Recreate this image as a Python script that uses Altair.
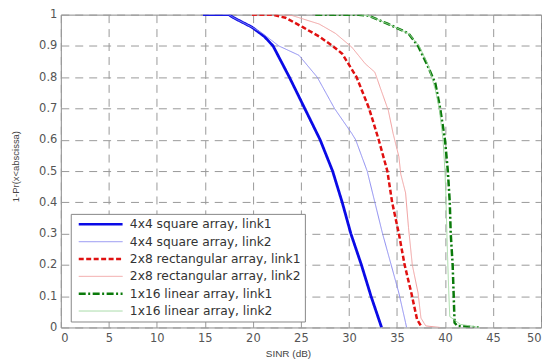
import altair as alt
import pandas as pd

series = [
    "4x4 square array, link1",
    "4x4 square array, link2",
    "2x8 rectangular array, link1",
    "2x8 rectangular array, link2",
    "1x16 linear array, link1",
    "1x16 linear array, link2",
]

# 4x4 square array
b1_x = [14.8, 17.5, 18.0, 19.9, 21.2, 22.1, 23.8, 25.4, 27.0, 28.3, 29.3, 30.2, 31.3, 32.3, 33.4]
b1_y = [1.0, 1.0, 0.99, 0.96, 0.93, 0.90, 0.80, 0.70, 0.60, 0.50, 0.40, 0.30, 0.20, 0.10, 0.0]
b2_x = [14.8, 17.5, 18.0, 19.9, 21.0, 22.7, 24.8, 26.7, 28.5, 30.3, 30.7, 31.9, 32.7, 33.5, 34.4, 35.2, 35.9, 36.0]
b2_y = [1.0, 1.0, 0.99, 0.96, 0.94, 0.90, 0.87, 0.80, 0.70, 0.62, 0.60, 0.50, 0.40, 0.30, 0.20, 0.11, 0.015, 0.0]

# 2x8 rectangular array
r1_x = [19.9, 22.0, 23.4, 25.2, 26.9, 28.3, 29.3, 30.8, 32.1, 33.1, 34.0, 34.5, 35.2, 35.8, 36.5, 37.1, 37.6]
r1_y = [1.0, 1.0, 0.99, 0.96, 0.93, 0.90, 0.875, 0.80, 0.70, 0.60, 0.50, 0.40, 0.30, 0.20, 0.11, 0.025, 0.0]
r2_x = [19.9, 23.0, 24.1, 26.9, 28.6, 30.3, 31.7, 32.7, 33.3, 34.1, 34.6, 35.2, 35.4, 35.9, 36.2, 36.6, 37.2, 37.5, 38.0, 39.5]
r2_y = [1.0, 1.0, 0.997, 0.97, 0.94, 0.896, 0.843, 0.816, 0.763, 0.694, 0.62, 0.546, 0.49, 0.43, 0.32, 0.20, 0.11, 0.03, 0.005, 0.0]

# 1x16 linear array
g1_x = [26.5, 31.0, 32.0, 34.1, 36.2, 37.2, 38.1, 39.0, 39.5, 40.0, 40.3, 40.5, 40.6, 40.8, 40.9, 41.0, 41.3, 43.5]
g1_y = [1.0, 1.0, 0.997, 0.97, 0.94, 0.90, 0.843, 0.78, 0.70, 0.60, 0.50, 0.40, 0.30, 0.20, 0.11, 0.015, 0.005, 0.0]
g2_x = [26.5, 31.0, 32.0, 34.1, 36.2, 37.3, 38.2, 39.0, 39.4, 39.8, 40.0, 40.1, 40.2, 40.3, 40.4, 40.5, 41.6, 43.6]
g2_y = [1.0, 1.0, 0.997, 0.97, 0.94, 0.90, 0.843, 0.76, 0.70, 0.60, 0.50, 0.42, 0.30, 0.20, 0.11, 0.035, 0.01, 0.0]

colors = ["#0a0ae6", "#8c8cf0", "#e01010", "#f0a0a0", "#0a7a0a", "#a0d8a0"]
dashes = [[1, 0], [1, 0], [5, 2.5], [1, 0], [7, 2.5, 2, 2.5], [1, 0]]
widths = [2.8, 1.0, 2.5, 1.0, 2.5, 1.0]
thick = [True, False, True, False, True, False]

x_ticks = list(range(0, 51, 5))
y_ticks = [i / 10 for i in range(11)]

rows = []
for name, xs, ys, w, tk in zip(series, [b1_x, b2_x, r1_x, r2_x, g1_x, g2_x],
                               [b1_y, b2_y, r1_y, r2_y, g1_y, g2_y], widths, thick):
    for i, (xv, yv) in enumerate(zip(xs, ys)):
        rows.append({"series": name, "x": xv, "y": yv, "i": i, "w": w, "thick": tk})
df = pd.DataFrame(rows)

TRANSP = "rgba(0,0,0,0)"
colors_thick = [c if t else TRANSP for c, t in zip(colors, thick)]
colors_thin = [TRANSP if t else c for c, t in zip(colors, thick)]

legend_common = dict(
    title=None, orient="none", legendX=10, legendY=200, padding=4,
    symbolType="M-4,0H4", symbolSize=121,
    labelFont="DejaVu Sans", labelFontSize=12.3, labelLimit=300,
    clipHeight=13, rowPadding=4.4,
)
leg_thick = alt.Legend(fillColor="white", strokeColor="#888888", symbolOffset=19,
                       labelOffset=22.3, labelColor="#333333", symbolStrokeWidth=2.5,
                       **legend_common)
leg_thin = alt.Legend(symbolOffset=19.85, labelOffset=24, labelColor=TRANSP,
                      symbolStrokeWidth=1, **legend_common)

axis_common = dict(
    ticks=False, domain=False, grid=True, gridDash=[8, 6], gridColor="#9a9a9a", gridWidth=1,
    labelFont="DejaVu Sans", labelFontSize=11.5, labelColor="#555555",
    titleFont="Liberation Sans", titleFontWeight="normal", titleColor="#444444",
)

x_enc = alt.X("x:Q", scale=alt.Scale(domain=[0, 50], nice=False, zero=False),
              axis=alt.Axis(values=x_ticks, title="SINR (dB)", titleFontSize=10, labelPadding=5,
                            titlePadding=5, titleX=228, **axis_common))
y_enc = alt.Y("y:Q", scale=alt.Scale(domain=[0, 1], nice=False, zero=False),
              axis=alt.Axis(values=y_ticks, format="~g", title="1-Pr(x<abscissa)", titleFontSize=9.5,
                            labelPadding=4, titleX=-45, titleY=152, titleBaseline="middle", **axis_common))

thick_layer = alt.Chart(df[df["thick"]]).mark_line(clip=True, strokeJoin="round").encode(
    x=x_enc, y=y_enc,
    color=alt.Color("series:N", scale=alt.Scale(domain=series, range=colors_thick), legend=leg_thick),
    strokeDash=alt.StrokeDash("series:N", scale=alt.Scale(domain=series, range=dashes), legend=leg_thick),
    strokeWidth=alt.StrokeWidth("w:Q", scale=None, legend=None),
    order=alt.Order("i:Q"),
)

thin_layer = alt.Chart(df[~df["thick"]]).mark_line(clip=True, strokeJoin="round", strokeWidth=1).encode(
    x=x_enc, y=y_enc,
    color=alt.Color("series:N", scale=alt.Scale(domain=series, range=colors_thin), legend=leg_thin),
    strokeDash=alt.StrokeDash("series:N", scale=alt.Scale(domain=series, range=dashes), legend=leg_thin),
    order=alt.Order("i:Q"),
)

chart = alt.layer(thick_layer, thin_layer).resolve_scale(
    color="independent", strokeDash="independent"
).properties(
    width=482, height=314,
    autosize=alt.AutoSizeParams(type="none"),
    padding={"left": 53, "top": 6, "right": 2, "bottom": 34},
    background="white",
).configure_view(stroke="#8a8a8a", strokeWidth=1)

chart.save("out.html", embed_options={"renderer": "svg", "actions": False})
